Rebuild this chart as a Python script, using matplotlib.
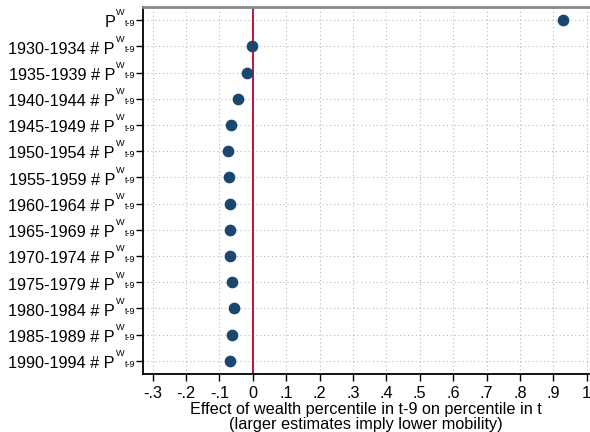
import matplotlib.pyplot as plt
from matplotlib.transforms import offset_copy

plt.rcParams['font.family'] = ['Liberation Sans', 'DejaVu Sans']

# Coefficients (top to bottom)
labels = ['', '1930-1934 # ', '1935-1939 # ', '1940-1944 # ', '1945-1949 # ',
          '1950-1954 # ', '1955-1959 # ', '1960-1964 # ', '1965-1969 # ',
          '1970-1974 # ', '1975-1979 # ', '1980-1984 # ', '1985-1989 # ',
          '1990-1994 # ']
estimates = [0.928, -0.003, -0.018, -0.044, -0.066, -0.074, -0.072, -0.068,
             -0.068, -0.069, -0.061, -0.056, -0.062, -0.069]
xticks = [-0.3, -0.2, -0.1, 0, 0.1, 0.2, 0.3, 0.4, 0.5, 0.6, 0.7, 0.8, 0.9, 1.0]
xticklabels = ['-.3', '-.2', '-.1', '0', '.1', '.2', '.3', '.4', '.5', '.6',
               '.7', '.8', '.9', '1']

fig = plt.figure(figsize=(5.9, 4.32), dpi=100)
ax = fig.add_axes([143 / 590, 1 - 374 / 432, 446 / 590, 367 / 432])

pos = list(range(len(labels)))
ax.scatter(estimates, pos, s=55, color='#1a476f', zorder=3)
ax.axvline(0, color='#c4002f', lw=1.3, zorder=2)

ax.set_ylim(len(labels) - 0.5, -0.5)
ax.set_xlim(-0.329, 1.007)
ax.set_yticks(pos)
ax.set_yticklabels([])
ax.set_xticks(xticks)
ax.set_xticklabels(xticklabels, fontsize=11.7)
ax.grid(True, color='#b8b8b8', linestyle=(0, (1, 2.5)), lw=0.8)
ax.set_axisbelow(True)
ax.tick_params(length=5, width=1, color='black')

# y labels: "... P" with superscript W and subscript t-9
yt = ax.get_yaxis_transform()
t_main = offset_copy(yt, fig, x=-28, y=-7.3, units='dots')
t_sup = offset_copy(yt, fig, x=-27, y=4.7, units='dots')
t_sub = offset_copy(yt, fig, x=-18.5, y=-5.7, units='dots')
for p, l in zip(pos, labels):
    ax.text(0, p, l + 'P', transform=t_main, ha='right', va='baseline',
            fontsize=11.7)
    ax.text(0, p, 'W', transform=t_sup, ha='left', va='baseline',
            fontsize=6.6)
    ax.text(0, p, 't-9', transform=t_sub, ha='left', va='baseline',
            fontsize=6.4)

ax.spines['right'].set_visible(False)
ax.spines['top'].set_color('#888888')
ax.spines['top'].set_linewidth(2)
ax.spines['left'].set_linewidth(1.3)
ax.spines['bottom'].set_linewidth(1.3)

ax.set_xlabel('Effect of wealth percentile in t-9 on percentile in t\n'
              '(larger estimates imply lower mobility)', fontsize=11.7,
              linespacing=0.95, labelpad=1)

fig.savefig('out.png')
